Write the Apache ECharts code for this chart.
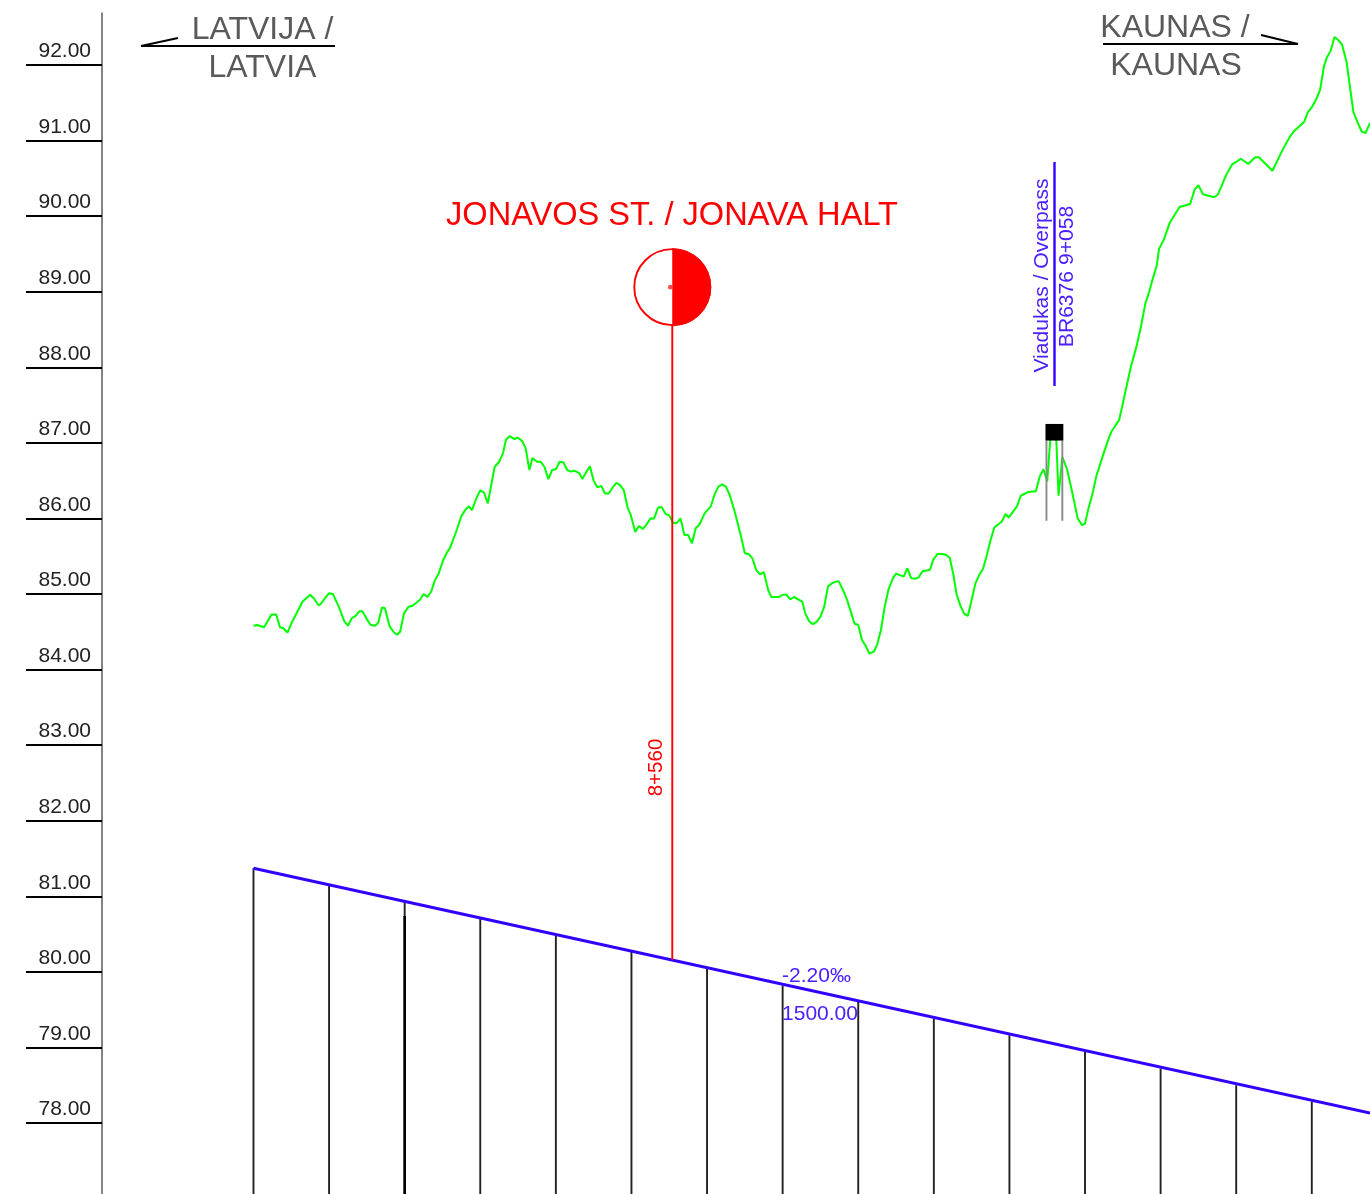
<!DOCTYPE html>
<html>
<head>
<meta charset="utf-8">
<title>Longitudinal profile</title>
<style>
  html, body { margin: 0; padding: 0; background: #ffffff; overflow: hidden; }
  #chart { width: 1370px; height: 1194px; }
</style>
<script src="https://cdn.jsdelivr.net/npm/echarts@6/dist/echarts.min.js"></script>
</head>
<body>
<div id="chart"></div>
<script>
  // elevation axis
  const yTicks = [78, 79, 80, 81, 82, 83, 84, 85, 86, 87, 88, 89, 90, 91, 92];

  // ground level: chainage (m), level (m)
  const groundChainage = [
    8006, 8011, 8020, 8030, 8036, 8041, 8045, 8051, 8056, 8071, 8081, 8086, 8092, 8095, 8101, 8106, 8111, 8119, 8126, 8131,
    8136, 8141, 8146, 8150, 8157, 8161, 8167, 8171, 8176, 8180, 8186, 8192, 8196, 8200, 8205, 8211, 8216, 8226, 8231, 8236,
    8241, 8246, 8251, 8257, 8262, 8266, 8275, 8281, 8286, 8291, 8295, 8301, 8306, 8311, 8316, 8325, 8331, 8336, 8340, 8345,
    8351, 8355, 8361, 8366, 8371, 8375, 8381, 8386, 8391, 8396, 8401, 8406, 8411, 8416, 8421, 8426, 8431, 8437, 8441, 8446,
    8451, 8456, 8461, 8466, 8471, 8476, 8481, 8486, 8491, 8496, 8501, 8505, 8511, 8516, 8521, 8526, 8531, 8536, 8541, 8546,
    8551, 8556, 8561, 8566, 8571, 8576, 8581, 8586, 8591, 8596, 8603, 8611, 8616, 8621, 8626, 8631, 8636, 8642, 8650, 8656,
    8661, 8666, 8671, 8676, 8681, 8687, 8691, 8701, 8706, 8711, 8716, 8721, 8732, 8736, 8741, 8746, 8751, 8756, 8761, 8766,
    8771, 8776, 8780, 8786, 8791, 8796, 8801, 8806, 8811, 8816, 8821, 8827, 8831, 8836, 8841, 8846, 8852, 8856, 8861, 8866,
    8871, 8876, 8881, 8886, 8891, 8897, 8901, 8905, 8911, 8916, 8922, 8927, 8932, 8936, 8941, 8946, 8951, 8956, 8961, 8966,
    8971, 8975, 8981, 8986, 8996, 9001, 9005, 9016, 9021, 9031, 9041, 9046, 9051, 9056, 9060, 9062, 9065, 9068, 9071, 9076,
    9082, 9087, 9093, 9096, 9102, 9106, 9110, 9116, 9121, 9130, 9137, 9141, 9151, 9155, 9159, 9167, 9174, 9180, 9186, 9191,
    9195, 9201, 9204, 9210, 9218, 9231, 9245, 9251, 9256, 9262, 9277, 9282, 9293, 9301, 9305, 9312, 9322, 9331, 9336, 9354,
    9367, 9377, 9382, 9396, 9401, 9406, 9412, 9417, 9422, 9426, 9431, 9436, 9441, 9446, 9452, 9461, 9467, 9472, 9477, 9483
  ];
  const groundLevel = [
    84.58, 84.59, 84.56, 84.73, 84.73, 84.56, 84.55, 84.49, 84.61, 84.90, 84.99, 84.94, 84.85, 84.87, 84.95, 85.01, 85.00, 84.83, 84.64, 84.58,
    84.68, 84.71, 84.77, 84.77, 84.65, 84.59, 84.58, 84.62, 84.82, 84.81, 84.57, 84.49, 84.46, 84.50, 84.74, 84.83, 84.84, 84.92, 85.00, 84.96,
    85.03, 85.18, 85.27, 85.45, 85.55, 85.61, 85.85, 86.03, 86.11, 86.16, 86.11, 86.27, 86.37, 86.34, 86.20, 86.68, 86.75, 86.86, 87.04, 87.09,
    87.05, 87.07, 87.03, 86.93, 86.64, 86.80, 86.75, 86.75, 86.68, 86.52, 86.64, 86.65, 86.75, 86.74, 86.64, 86.62, 86.63, 86.60, 86.52, 86.61,
    86.69, 86.50, 86.41, 86.43, 86.33, 86.33, 86.41, 86.47, 86.44, 86.37, 86.14, 86.05, 85.82, 85.90, 85.86, 85.92, 86.00, 86.00, 86.14, 86.15,
    86.06, 86.04, 85.94, 85.94, 86.00, 85.78, 85.78, 85.67, 85.87, 85.92, 86.07, 86.16, 86.32, 86.42, 86.45, 86.42, 86.31, 86.11, 85.80, 85.54,
    85.53, 85.47, 85.32, 85.26, 85.29, 85.05, 84.96, 84.96, 84.99, 84.99, 84.93, 84.96, 84.90, 84.74, 84.64, 84.60, 84.63, 84.70, 84.83, 85.10,
    85.14, 85.16, 85.17, 85.05, 84.93, 84.77, 84.61, 84.59, 84.39, 84.31, 84.21, 84.24, 84.33, 84.52, 84.83, 85.06, 85.21, 85.27, 85.25, 85.23,
    85.34, 85.21, 85.20, 85.22, 85.30, 85.31, 85.32, 85.45, 85.53, 85.53, 85.52, 85.48, 85.25, 85.00, 84.85, 84.74, 84.71, 84.92, 85.14, 85.25,
    85.33, 85.47, 85.71, 85.88, 85.96, 86.06, 86.01, 86.16, 86.30, 86.35, 86.36, 86.55, 86.65, 86.49, 87.04, 87.12, 87.12, 87.04, 86.30, 86.81,
    86.66, 86.44, 86.16, 86.01, 85.91, 85.93, 86.11, 86.33, 86.56, 86.84, 87.05, 87.15, 87.30, 87.47, 87.66, 88.02, 88.27, 88.54, 88.85, 89.00,
    89.15, 89.35, 89.57, 89.68, 89.91, 90.12, 90.16, 90.35, 90.41, 90.29, 90.25, 90.29, 90.55, 90.69, 90.71, 90.76, 90.69, 90.78, 90.78, 90.60,
    90.87, 91.05, 91.12, 91.25, 91.38, 91.44, 91.55, 91.67, 91.98, 92.10, 92.19, 92.37, 92.33, 92.27, 92.04, 91.38, 91.23, 91.12, 91.10, 91.23
  ];

  // design gradient, with a post every 100 m down to the bottom of the sheet
  const gradeChainage = [8006, 9483];
  const gradeLevel = [81.37, 78.13];
  const postChainage = [8006, 8106, 8206, 8306, 8406, 8506, 8606, 8706, 8806, 8906, 9006, 9106, 9206, 9306, 9406];
  const postLevel = [81.37, 81.16, 80.94, 80.71, 80.49, 80.27, 80.05, 79.82, 79.61, 79.38, 79.16, 78.94, 78.72, 78.50, 78.28];

  // the post at 8206 is drawn heavier from here down
  const heavyPostChainage = [8206];
  const heavyPostTop = [80.74];

  // station and overpass
  const stationChainage = 8560;
  const stationTop = 89.06;
  const stationBottom = 80.16;
  const bridgeChainage = [9055, 9076];
  const bridgeDeck = [87.25, 87.03];
  const bridgeFoot = 85.97;

  const axisBottom = 77.06;
  const axisTop = 92.688;

  const BLUE = '#3300ff';
  const TEXT_BLUE = '#4d1fff';
  const RED = '#ff0000';
  const GREY = '#5a5a5a';
  const FONT = '"Liberation Sans", Arial, sans-serif';

  let myChart = echarts.init(document.getElementById('chart'), null, {renderer: 'canvas'});

  // line series breaks where the level is null
  function postLines(chainages, tops, bottom) {
    let out = [];
    for (let i = 0; i < chainages.length; i++) {
      out.push([chainages[i], tops[i]], [chainages[i], bottom], [chainages[i], null]);
    }
    return out;
  }

  function label(text, x, y, size, fill, rotation) {
    return {
      type: 'text',
      x: x,
      y: y,
      rotation: rotation || 0,
      z: 20,
      style: {
        text: text,
        fill: fill,
        font: size + 'px ' + FONT,
        textAlign: 'center',
        textVerticalAlign: 'middle'
      }
    };
  }

  function rule(x1, y1, x2, y2) {
    return {
      type: 'line',
      z: 20,
      shape: {x1: x1, y1: y1, x2: x2, y2: y2},
      style: {stroke: '#000000', lineWidth: 2}
    };
  }

  myChart.setOption({
    animation: false,
    backgroundColor: '#ffffff',
    grid: {left: 102, top: 13, width: 1268, height: 1181},
    xAxis: {type: 'value', min: 7805.6, max: 9483, show: false},
    yAxis: {
      type: 'value',
      min: axisBottom,
      max: axisTop,
      position: 'left',
      splitLine: {show: false},
      axisLine: {show: true, lineStyle: {color: '#666666', width: 1.6}},
      axisTick: {
        show: true,
        length: 76,
        customValues: yTicks,
        lineStyle: {color: '#000000', width: 1.8}
      },
      axisLabel: {
        show: true,
        customValues: yTicks,
        margin: 11,
        color: '#222222',
        fontFamily: FONT,
        fontSize: 21,
        verticalAlign: 'bottom',
        padding: [0, 0, 3, 0],
        formatter: function (v) {
          return v.toFixed(2);
        }
      }
    },
    series: [
      {
        name: 'ground',
        type: 'line',
        symbol: 'none',
        z: 3,
        lineStyle: {color: '#00ff00', width: 2},
        data: groundChainage.map(function (c, i) {
          return [c, groundLevel[i]];
        })
      },
      {
        name: 'posts',
        type: 'line',
        symbol: 'none',
        z: 2,
        lineStyle: {color: '#222222', width: 1.9},
        data: postLines(postChainage, postLevel, axisBottom)
      },
      {
        name: 'heavy post',
        type: 'line',
        symbol: 'none',
        z: 2,
        lineStyle: {color: '#000000', width: 2.6},
        data: postLines(heavyPostChainage, heavyPostTop, axisBottom)
      },
      {
        name: 'gradient',
        type: 'line',
        symbol: 'none',
        z: 4,
        lineStyle: {color: BLUE, width: 3},
        data: gradeChainage.map(function (c, i) {
          return [c, gradeLevel[i]];
        })
      },
      {
        name: 'station line',
        type: 'line',
        symbol: 'none',
        z: 5,
        lineStyle: {color: RED, width: 1.9},
        data: [[stationChainage, stationTop], [stationChainage, stationBottom]]
      },
      {
        name: 'bridge piers',
        type: 'line',
        symbol: 'none',
        z: 6,
        lineStyle: {color: '#8a8a8a', width: 1.9},
        data: postLines(bridgeChainage, [bridgeDeck[1], bridgeDeck[1]], bridgeFoot)
      },
      {
        name: 'bridge deck',
        type: 'custom',
        z: 7,
        data: [[bridgeChainage[0], bridgeDeck[0], bridgeChainage[1], bridgeDeck[1]]],
        renderItem: function (params, api) {
          let a = api.coord([api.value(0), api.value(1)]);
          let b = api.coord([api.value(2), api.value(3)]);
          return {
            type: 'rect',
            shape: {x: a[0] - 1, y: a[1], width: b[0] - a[0] + 2, height: b[1] - a[1]},
            style: {fill: '#000000'}
          };
        }
      },
      {
        name: 'station symbol',
        type: 'custom',
        z: 8,
        data: [[stationChainage, stationTop]],
        renderItem: function (params, api) {
          let c = api.coord([api.value(0), api.value(1)]);
          return {
            type: 'group',
            children: [
              {
                type: 'circle',
                shape: {cx: c[0], cy: c[1], r: 38},
                style: {fill: '#ffffff', stroke: RED, lineWidth: 1.9}
              },
              {
                type: 'sector',
                shape: {cx: c[0], cy: c[1], r0: 0, r: 39, startAngle: -Math.PI / 2, endAngle: Math.PI / 2, clockwise: true},
                style: {fill: RED}
              },
              {
                type: 'circle',
                shape: {cx: c[0] - 2, cy: c[1], r: 2.4},
                style: {fill: '#ff5050'}
              }
            ]
          };
        }
      }
    ],
    graphic: [
      label('LATVIJA /', 262.5, 30, 32, GREY),
      label('LATVIA', 262.5, 68, 32, GREY),
      rule(141, 46, 335, 46),
      rule(141, 46, 178, 38),
      label('KAUNAS /', 1175, 28, 32, GREY),
      label('KAUNAS', 1176, 66, 32, GREY),
      rule(1103, 44, 1298, 44),
      rule(1261, 35, 1298, 44),
      label('JONAVOS ST. / JONAVA HALT', 672, 216, 32.6, RED),
      label('8+560', 656.5, 767.5, 20.5, RED, Math.PI / 2),
      label('Viadukas / Overpass', 1042.5, 275.5, 21.1, TEXT_BLUE, Math.PI / 2),
      label('BR6376 9+058', 1067.5, 276.5, 21.1, TEXT_BLUE, Math.PI / 2),
      {
        type: 'line',
        z: 20,
        shape: {x1: 1054.5, y1: 162, x2: 1054.5, y2: 386},
        style: {stroke: BLUE, lineWidth: 2.4}
      },
      label('-2.20\u2030', 816.5, 976, 21, TEXT_BLUE),
      label('1500.00', 820, 1014, 21, TEXT_BLUE)
    ]
  });
</script>
</body>
</html>
